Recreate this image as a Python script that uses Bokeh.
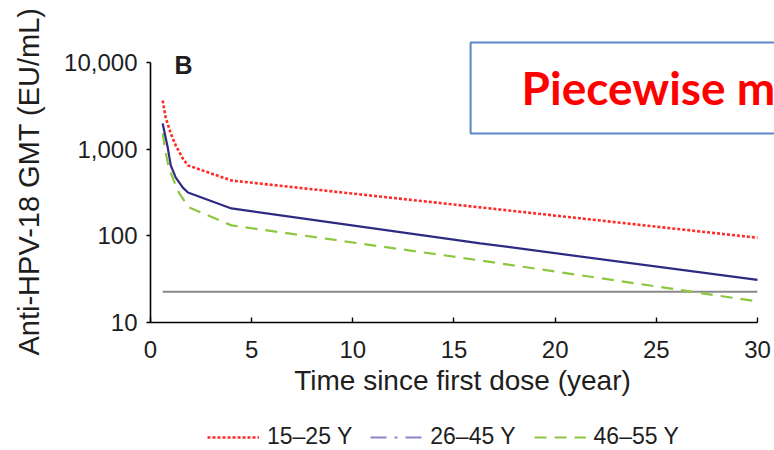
from bokeh.plotting import figure
from bokeh.models import FixedTicker, Legend, LegendItem, Label, Range1d
from bokeh.layouts import column
from bokeh.embed import file_html
from bokeh.resources import INLINE

# ---- data ----
time_1525 = [0.6, 0.75, 1.0, 1.25, 1.6, 1.85, 4.0, 16.3, 30]
gmt_1525 = [3650, 2320, 1520, 1100, 780, 650, 435, 213, 95]

time_2645 = [0.6, 0.85, 1.0, 1.25, 1.6, 1.85, 4.0, 16.3, 30]
gmt_2645 = [1980, 1050, 650, 470, 360, 316, 207, 82, 31]

time_4655 = [0.6, 0.75, 0.9, 1.15, 1.4, 1.75, 1.9, 4.0, 16.3, 30]
gmt_4655 = [1520, 915, 615, 435, 316, 237, 213, 132, 52, 17.5]

threshold_time = [0.6, 30]
threshold_gmt = [22.7, 22.7]

group_labels = ["15\u201325 Y", "26\u201345 Y", "46\u201355 Y"]
y_ticks = [10, 100, 1000, 10000]
y_tick_labels = ["10", "100", "1,000", "10,000"]
x_ticks = [0, 5, 10, 15, 20, 25, 30]

RED = "#ff2b2b"
NAVY = "#2d2a82"
LAVENDER = "#8a84c8"
GREEN = "#8dc63f"
GREY = "#8a8a8a"
TXT = "#1e1e1e"
FONT = "Liberation Sans"
NAN = float("nan")

# frame is extended a little above 10,000 and right of 30 so the
# panel letter and the overlaid box are not clipped; axes are bounded.
Y_TOP = 10 ** (4 + 22 / 86.67)
X_RIGHT = 30 + 17 / 20.233

p = figure(width=774, height=410, y_axis_type="log",
           x_range=Range1d(0, X_RIGHT), y_range=Range1d(10, Y_TOP),
           output_backend="svg", toolbar_location=None,
           min_border_left=150, min_border_right=0,
           min_border_top=40, min_border_bottom=88)

p.outline_line_color = None
p.xgrid.grid_line_color = None
p.ygrid.grid_line_color = None
p.background_fill_color = "white"
p.border_fill_color = "white"

# axes
p.yaxis.ticker = FixedTicker(ticks=y_ticks, minor_ticks=[])
p.yaxis.major_label_overrides = {t: l for t, l in zip(y_ticks, y_tick_labels)}
p.xaxis.ticker = FixedTicker(ticks=x_ticks, minor_ticks=[])
p.yaxis.bounds = (10, 10000)
p.xaxis.bounds = (0, 30)

for ax in (p.xaxis[0], p.yaxis[0]):
    ax.axis_line_color = "black"
    ax.axis_line_width = 1.6
    ax.major_tick_line_color = "black"
    ax.major_tick_line_width = 1.4
    ax.minor_tick_line_color = None
    ax.major_label_text_font = FONT
    ax.major_label_text_color = TXT
    ax.axis_label_text_font = FONT
    ax.axis_label_text_color = TXT
    ax.axis_label_text_font_style = "normal"

p.yaxis.major_tick_out = 4
p.yaxis.major_tick_in = 0
p.xaxis.major_tick_out = 0
p.xaxis.major_tick_in = 5

p.yaxis.major_label_text_font_size = "24px"
p.xaxis.major_label_text_font_size = "24px"
p.yaxis.major_label_standoff = 9
p.xaxis.major_label_standoff = 18

p.yaxis.axis_label = "Anti-HPV-18 GMT (EU/mL)"
p.yaxis.axis_label_text_font_size = "29px"
p.yaxis.axis_label_standoff = 16
p.xaxis.axis_label = "Time since first dose (year)"
p.xaxis.axis_label_text_font_size = "28px"
p.xaxis.axis_label_standoff = 4

# data lines
p.line(threshold_time, threshold_gmt, line_color=GREY, line_width=2)
p.line(time_4655, gmt_4655, line_color=GREEN, line_width=2.2, line_dash="12 8")
p.line(time_2645, gmt_2645, line_color=NAVY, line_width=2.2)
p.line(time_1525, gmt_1525, line_color=RED, line_width=2.6, line_dash="3 2")

# panel letter
p.add_layout(Label(x=1.63, y=9480, text="B", text_font=FONT,
                   text_font_style="bold", text_font_size="25px",
                   text_color=TXT, text_align="center", text_baseline="middle"))

# overlaid box label
p.add_layout(Label(x=15.82, y=5080, text="Piecewise model",
                   text_font="Lato", text_font_style="bold",
                   text_font_size="46px", text_color="#ff0000",
                   text_align="left", text_baseline="middle",
                   border_line_color="#5a87c5", border_line_width=2,
                   background_fill_color="white",
                   padding=dict(left=51, right=20, top=18, bottom=18)))

# ---- legend strip below the chart ----
leg = figure(width=774, height=40, x_range=Range1d(0, 1), y_range=Range1d(0, 1),
             output_backend="svg", toolbar_location=None,
             x_axis_location=None, y_axis_location=None,
             min_border_left=0, min_border_right=0,
             min_border_top=0, min_border_bottom=0)
leg.outline_line_color = None
leg.xgrid.grid_line_color = None
leg.ygrid.grid_line_color = None

# legend proxies (no visible data; styles differ from the drawn lines)
l1 = leg.line([NAN, NAN], [NAN, NAN], line_color=RED, line_width=2.6, line_dash="3 2")
l2 = leg.line([NAN, NAN], [NAN, NAN], line_color=LAVENDER, line_width=2.2, line_dash="16 8 3 8")
l3 = leg.line([NAN, NAN], [NAN, NAN], line_color=GREEN, line_width=2.2, line_dash="12 8")

legend = Legend(items=[LegendItem(label=group_labels[0], renderers=[l1]),
                       LegendItem(label=group_labels[1], renderers=[l2]),
                       LegendItem(label=group_labels[2], renderers=[l3])],
                orientation="horizontal", location=(57, 0),
                border_line_alpha=0, background_fill_alpha=0,
                glyph_width=52, label_standoff=8, spacing=18,
                padding=0, margin=0,
                label_text_font=FONT, label_text_font_size="23px",
                label_text_color=TXT)
leg.add_layout(legend)

layout = column(p, leg, spacing=0)
open("out.html", "w").write(file_html(layout, INLINE))
